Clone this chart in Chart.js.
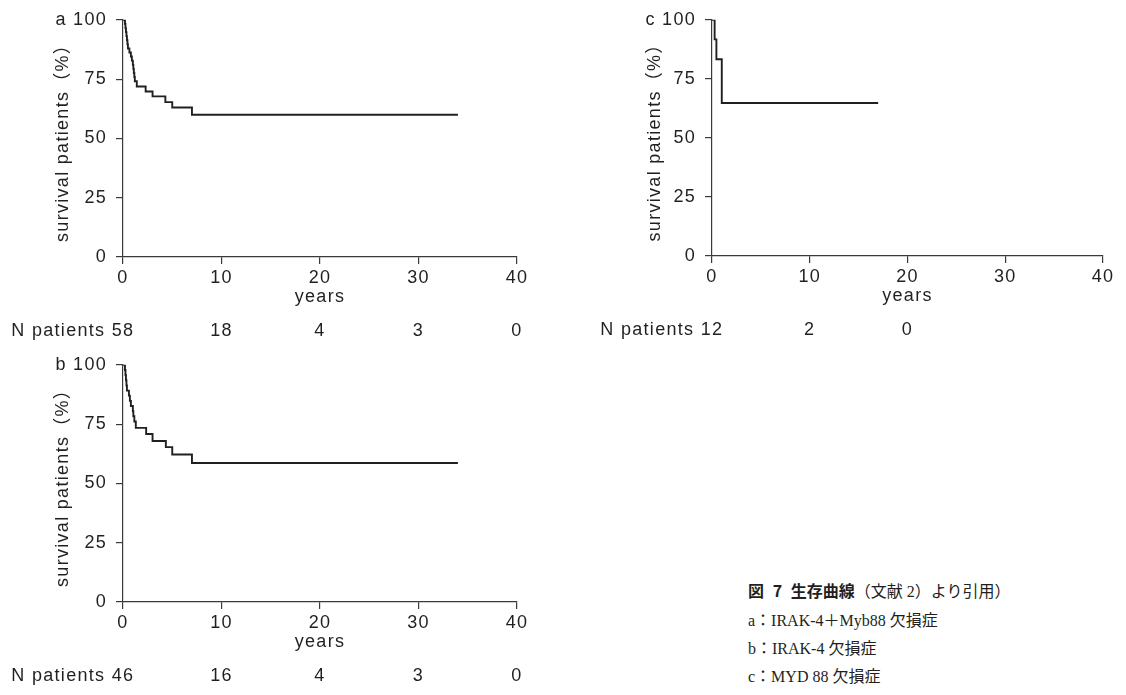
<!DOCTYPE html>
<html><head><meta charset="utf-8">
<script src="https://cdn.jsdelivr.net/npm/chart.js@4.4.0/dist/chart.umd.min.js"></script>
<style>
html,body{margin:0;padding:0;background:#fff;width:1126px;height:695px;overflow:hidden;position:relative}
canvas{position:absolute}
.cap{position:absolute;left:748px;font-family:"Liberation Serif","Noto Sans CJK JP",serif;font-size:16px;color:#231f20;white-space:nowrap;line-height:20px}
.cap b{font-family:"Noto Sans CJK JP",sans-serif;font-weight:700;word-spacing:5px}
</style></head><body>
<canvas id="ca" width="560" height="345" style="left:0;top:0"></canvas>
<canvas id="cb" width="560" height="350" style="left:0;top:345px"></canvas>
<canvas id="cc" width="546" height="345" style="left:580px;top:0"></canvas>
<div class="cap" style="top:580px"><b>図 7 生存曲線</b>（文献 2）より引用）</div>
<div class="cap" style="top:611px">a：IRAK-4＋Myb88 欠損症</div>
<div class="cap" style="top:639px">b：IRAK-4 欠損症</div>
<div class="cap" style="top:667px">c：MYD 88 欠損症</div>
<script>
// ---- data ----
const xTicks = [0, 10, 20, 30, 40];
const yTicks = [0, 25, 50, 75, 100];
const xTitle = 'years';
const yTitle = 'survival patients（%）';
const rowLabel = 'N patients';

const yearsA = [0, 0.2, 0.25, 0.3, 0.35, 0.4, 0.45, 0.5, 0.65, 0.8, 0.9, 1.0, 1.05, 1.1, 1.15, 1.2, 1.4, 2.3, 3.0, 4.3, 5.0, 7.0, 34];
const survA  = [100, 98.3, 96.5, 94.8, 93.1, 91.4, 89.7, 87.9, 86.2, 84.5, 82.8, 81.0, 79.3, 77.6, 75.9, 74.1, 71.9, 69.8, 67.7, 65.3, 63.0, 60.0, 60.0];
const riskTimesA = [0, 10, 20, 30, 40];
const atRiskA = [58, 18, 4, 3, 0];

const yearsB = [0, 0.2, 0.25, 0.3, 0.35, 0.4, 0.6, 0.7, 0.8, 1.0, 1.05, 1.15, 1.3, 2.35, 3.0, 4.35, 5.0, 7.0, 34];
const survB  = [100, 97.8, 95.7, 93.5, 91.3, 89.1, 87.0, 84.8, 82.6, 80.4, 78.3, 76.1, 73.4, 70.8, 67.9, 65.3, 62.2, 58.6, 58.6];
const riskTimesB = [0, 10, 20, 30, 40];
const atRiskB = [46, 16, 4, 3, 0];

const yearsC = [0, 0.27, 0.45, 1.0, 17];
const survC  = [100, 91.7, 83.3, 64.8, 64.8];
const riskTimesC = [0, 10, 20];
const atRiskC = [12, 2, 0];

// ---- style ----
const TXT = '#231f20';
const AX = '#3a3a3a';
const FAMILY = '"Liberation Sans", "Noto Sans CJK JP", Arial, sans-serif';
const FSIZE = 18;
const SPACING = '1.3px';

const spacingPlugin = {
  id: 'spacing',
  beforeDraw(chart) { chart.ctx.letterSpacing = SPACING; }
};

const nRowPlugin = {
  id: 'nRow',
  afterDraw(chart, args, opts) {
    const ctx = chart.ctx, xs = chart.scales.x;
    const y = chart.chartArea.bottom + opts.offset;
    ctx.save();
    ctx.letterSpacing = SPACING;
    ctx.font = FSIZE + 'px ' + FAMILY;
    ctx.fillStyle = TXT;
    ctx.textBaseline = 'middle';
    ctx.textAlign = 'center';
    opts.values.forEach((v, i) => ctx.fillText(String(v), xs.getPixelForValue(opts.at[i]), y));
    const first = String(opts.values[0]);
    const xr = xs.getPixelForValue(opts.at[0]) - ctx.measureText(first).width / 2 - ctx.measureText(' ').width;
    ctx.textAlign = 'right';
    ctx.fillText(opts.label, xr, y);
    ctx.restore();
  }
};

function makeChart(id, letter, xs, ys, riskAt, riskVals, yAxisW, yTitlePad, pad) {
  const pts = xs.map((x, i) => ({ x: x, y: ys[i] }));
  return new Chart(document.getElementById(id), {
    type: 'line',
    data: { datasets: [{ data: pts, stepped: 'before', borderColor: TXT, borderWidth: 1.9, pointRadius: 0, fill: false, tension: 0 }] },
    options: {
      responsive: false, animation: false, devicePixelRatio: 1,
      layout: { padding: pad },
      plugins: {
        legend: { display: false }, tooltip: { enabled: false },
        nRow: { label: rowLabel, values: riskVals, at: riskAt, offset: 74 }
      },
      scales: {
        x: {
          type: 'linear', min: 0, max: 40,
          afterBuildTicks: s => { s.ticks = xTicks.map(v => ({ value: v })); },
          afterFit: s => { s.height = 51; },
          grid: { drawOnChartArea: false, drawTicks: true, tickLength: 7, color: AX, lineWidth: 1.2 },
          border: { display: true, color: AX, width: 1.2 },
          ticks: { color: TXT, padding: 3, maxRotation: 0, font: { size: FSIZE, family: FAMILY } },
          title: { display: true, text: xTitle, color: TXT, padding: { top: 0, bottom: 0 }, font: { size: FSIZE, family: FAMILY } }
        },
        y: {
          min: 0, max: 100,
          afterBuildTicks: s => { s.ticks = yTicks.map(v => ({ value: v })); },
          afterFit: s => { s.width = yAxisW; },
          grid: { drawOnChartArea: false, drawTicks: true, tickLength: 7, color: AX, lineWidth: 1.2 },
          border: { display: true, color: AX, width: 1.2 },
          ticks: { color: TXT, padding: 9, font: { size: FSIZE, family: FAMILY },
                   callback: v => (v === 100 ? letter + ' ' + v : String(v)) },
          title: { display: true, text: yTitle, color: TXT, padding: { top: yTitlePad, bottom: 0 }, font: { size: FSIZE, family: FAMILY } }
        }
      }
    },
    plugins: [spacingPlugin, nRowPlugin]
  });
}

makeChart('ca', 'a', yearsA, survA, riskTimesA, atRiskA, 123, 52, { top: 14, right: 43, bottom: 37, left: 0 });
makeChart('cb', 'b', yearsB, survB, riskTimesB, atRiskB, 123, 52, { top: 16, right: 43, bottom: 42, left: 0 });
makeChart('cc', 'c', yearsC, survC, riskTimesC, atRiskC, 132, 64, { top: 15, right: 23, bottom: 38, left: 0 });
</script>
</body></html>
